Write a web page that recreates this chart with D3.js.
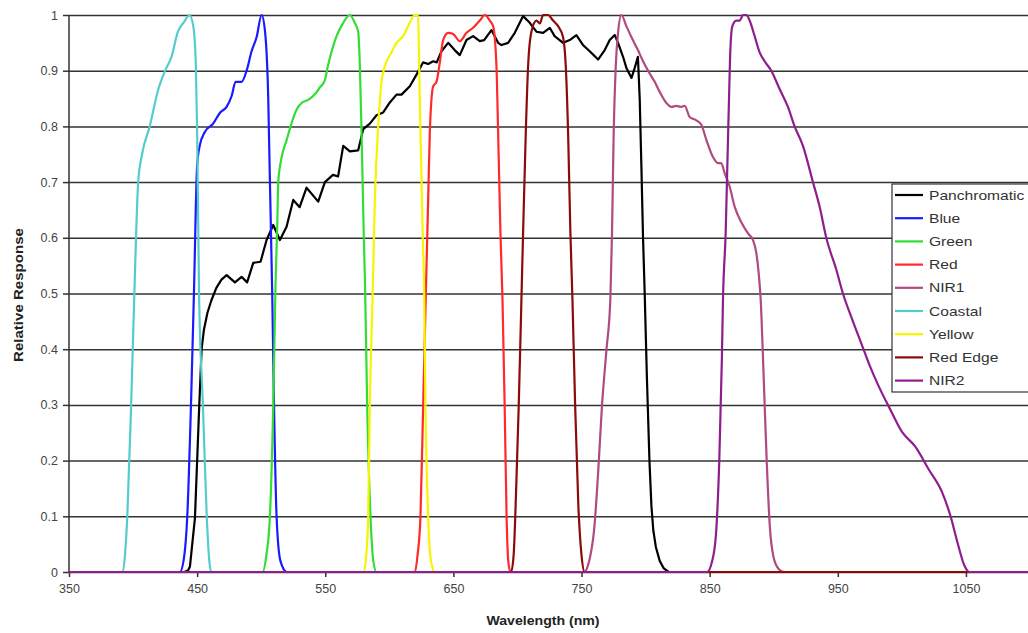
<!DOCTYPE html>
<html>
<head>
<meta charset="utf-8">
<script src="https://cdn.jsdelivr.net/npm/d3@7"></script>
<style>
  body { margin: 0; background: #fff; }
  svg { display: block; font-family: "Liberation Sans", Arial, sans-serif; }
  .grid line { stroke: #333; stroke-width: 1.5; }
  .grid path { display: none; }
  .axis path, .axis line { stroke: #333; stroke-width: 1.5; }
  .axis text { fill: #444; font-size: 12.5px; }
  .band { fill: none; stroke-width: 2.2; stroke-linejoin: round; }
</style>
</head>
<body>
<svg id="chart" width="1028" height="633"></svg>
<script>

/////// Data: [wavelength nm, relative response] ///////

var panchromatic = [[350,0],[440,0],[443,0.003],[444.4,0.01],[448.3,0.097],[451.6,0.296],[453.5,0.4],[455.3,0.435],[458,0.465],[461,0.487],[465,0.51],[469,0.525],[473,0.533],[479.5,0.52],[484.7,0.53],[489,0.52],[493.8,0.555],[499.5,0.557],[504.2,0.596],[509.4,0.623],[514.6,0.596],[519.8,0.62],[525,0.668],[530,0.655],[535.4,0.69],[544.5,0.665],[549.7,0.7],[556,0.713],[560,0.71],[564,0.765],[569.2,0.755],[575.7,0.757],[579.6,0.795],[584.8,0.805],[590,0.82],[595.2,0.825],[600.4,0.843],[605.6,0.857],[609.5,0.857],[616,0.872],[621.2,0.893],[626.4,0.915],[630.3,0.912],[634.2,0.917],[637,0.915],[640.7,0.935],[645.9,0.95],[651,0.937],[655,0.928],[660.2,0.955],[665.4,0.962],[670.6,0.953],[674,0.955],[679.7,0.973],[684.9,0.95],[687.5,0.946],[692.7,0.95],[697.9,0.968],[704.4,0.998],[709.6,0.986],[714.8,0.97],[720,0.968],[725.2,0.977],[729,0.962],[735.6,0.95],[740.8,0.955],[746,0.964],[751.2,0.946],[756.4,0.935],[762.9,0.92],[768.1,0.937],[772,0.955],[775.9,0.964],[778.5,0.95],[782.4,0.925],[785,0.905],[789,0.887],[791.5,0.905],[794,0.925],[795.4,0.85],[796.7,0.73],[798,0.6],[799.3,0.5],[801,0.35],[803,0.2],[804.5,0.12],[806,0.075],[808,0.045],[811,0.02],[814,0.007],[818,0],[1100,0]];

var blue = [[350,0],[436.5,0],[440,0.03],[442.3,0.1],[445.2,0.3],[447.5,0.5],[450,0.73],[452,0.765],[456,0.79],[462.5,0.805],[468,0.825],[473,0.835],[477,0.855],[480,0.88],[484.7,0.88],[488.6,0.9],[492.5,0.935],[496.4,0.96],[500.3,1],[503,0.97],[505.5,0.85],[506.8,0.7],[508.6,0.5],[510,0.3],[512,0.1],[515,0.02],[520,0],[1100,0]];

var green = [[350,0],[501,0],[504,0.03],[506.8,0.1],[509.4,0.3],[511.2,0.52],[512.5,0.62],[513.3,0.7],[516,0.745],[519.8,0.775],[523.7,0.806],[527.6,0.83],[531.5,0.842],[537,0.848],[542,0.858],[545.8,0.87],[549.7,0.883],[552,0.908],[555,0.935],[558.8,0.962],[564,0.986],[569.2,1],[573,0.986],[575.7,0.97],[577,0.908],[578.3,0.79],[580,0.61],[581,0.52],[582.7,0.3],[585.3,0.1],[587.5,0.02],[590,0],[1100,0]];

var red = [[350,0],[620,0],[622,0.03],[624.3,0.1],[626.4,0.3],[628.5,0.5],[630.3,0.668],[631.6,0.79],[634.2,0.872],[636.8,0.88],[639.4,0.915],[642,0.955],[645.9,0.968],[649.8,0.966],[655,0.953],[660.2,0.968],[665.4,0.977],[670.6,0.99],[674.5,1],[678.4,0.99],[681,0.98],[683.6,0.908],[684.9,0.79],[686.7,0.61],[688.3,0.49],[690,0.3],[691.5,0.1],[692.8,0.02],[694.5,0],[1100,0]];

var nir1 = [[350,0],[752,0],[756,0.02],[760,0.08],[763,0.18],[766,0.3],[769.5,0.4],[772.5,0.49],[773.8,0.61],[775.1,0.79],[776.7,0.908],[778.5,0.968],[781.1,1],[785,0.98],[789,0.96],[794,0.937],[798,0.917],[803.2,0.895],[807.1,0.88],[811,0.862],[816.2,0.842],[820.1,0.835],[824,0.837],[827.9,0.835],[830.5,0.837],[834.4,0.817],[839.6,0.811],[843.5,0.803],[847.4,0.776],[852.6,0.745],[856.5,0.734],[859,0.734],[861.7,0.716],[865.6,0.692],[869.5,0.656],[874.7,0.628],[879.9,0.608],[883.8,0.596],[886.4,0.573],[888.5,0.53],[889.8,0.49],[892,0.36],[894.5,0.2],[897,0.08],[900,0.025],[904,0.005],[908,0],[1100,0]];

var coastal = [[350,0],[392,0],[394,0.04],[395.5,0.1],[398.5,0.3],[401,0.5],[404,0.7],[407,0.75],[413,0.8],[419.5,0.865],[425,0.9],[430,0.925],[435,0.97],[440,0.988],[444,1],[447,0.98],[449,0.91],[450,0.79],[451.5,0.5],[454.5,0.3],[457.5,0.1],[459.5,0.02],[461,0],[1100,0]];

var yellow = [[350,0],[580,0],[582,0.03],[583.5,0.1],[584.8,0.3],[587,0.5],[588.7,0.668],[591.3,0.8],[593.9,0.88],[596.5,0.908],[601.7,0.933],[605.6,0.95],[610.8,0.962],[614.7,0.98],[619.9,1],[622.5,1],[623.3,0.908],[624.3,0.79],[626,0.61],[627.2,0.5],[628.2,0.3],[630.3,0.1],[632.5,0.02],[635.5,0],[1100,0]];

var redEdge = [[350,0],[695,0],[697,0.03],[699,0.15],[701,0.3],[703.1,0.49],[704.4,0.61],[706.5,0.79],[708.3,0.908],[710.9,0.97],[714.8,0.99],[717.5,0.985],[720,1],[723.9,1],[727.8,0.99],[731.7,0.98],[735.6,0.96],[737.7,0.908],[739.5,0.79],[741.3,0.61],[742.9,0.49],[745,0.3],[747.5,0.12],[750,0.03],[752.5,0],[1100,0]];

var nir2 = [[350,0],[848,0],[852,0.02],[855,0.07],[857.5,0.2],[859.5,0.38],[860.4,0.49],[862.5,0.61],[863.8,0.73],[865.1,0.85],[866.2,0.94],[867.7,0.98],[870.8,0.99],[873.4,0.99],[876,1],[878.6,1],[881.2,0.99],[885.1,0.962],[889,0.933],[892.9,0.917],[898.1,0.9],[904.6,0.867],[911.1,0.835],[916.3,0.8],[922.8,0.765],[930.6,0.7],[935.8,0.656],[941,0.6],[948.8,0.543],[954,0.5],[961,0.455],[968.4,0.41],[975,0.37],[981.6,0.335],[992,0.287],[1000,0.252],[1010.5,0.225],[1021,0.184],[1031.6,0.142],[1038,0.1],[1043.4,0.053],[1048.7,0.012],[1052.6,0],[1100,0]];

var seriesNames = ["Panchromatic","Blue","Green","Red","NIR1","Coastal","Yellow","Red Edge","NIR2"];
var seriesData = [panchromatic, blue, green, red, nir1, coastal, yellow, redEdge, nir2];
var seriesColors = ["#000000","#1a1aff","#33dd33","#ff2a2a","#b04a80","#55cccc","#f5f500","#8b0a0a","#8e1e8e"];

var xTicks = [350,450,550,650,750,850,950,1050];
var yTicks = [0,0.1,0.2,0.3,0.4,0.5,0.6,0.7,0.8,0.9,1];
var yTickLabels = ["0","0.1","0.2","0.3","0.4","0.5","0.6","0.7","0.8","0.9","1"];


/////// Scales ///////

var svg = d3.select("#chart");

var x = d3.scaleLinear().domain([350, 1100]).range([69, 1030]),
    y = d3.scaleLinear().domain([0, 1]).range([572, 15]);

// horizontal grid lines
svg.append("g")
    .attr("class", "grid")
    .attr("transform", "translate(" + x.range()[0] + ",0)")
    .call(d3.axisLeft(y).tickValues(yTicks).tickSize(-(x.range()[1] - x.range()[0])).tickFormat(""));

// y axis
svg.append("g")
    .attr("class", "axis")
    .attr("transform", "translate(" + x.range()[0] + ",0)")
    .call(d3.axisLeft(y).tickValues(yTicks).tickSize(6).tickPadding(5)
        .tickFormat(function(d, i) { return yTickLabels[i]; }))
    .call(function(g) { g.select(".domain").attr("d", "M0," + y(0) + "V" + y(1)); });

// x axis
svg.append("g")
    .attr("class", "axis")
    .attr("transform", "translate(0," + y(0) + ")")
    .call(d3.axisBottom(x).tickValues(xTicks).tickSize(5).tickPadding(7).tickFormat(d3.format("d")))
    .call(function(g) { g.select(".domain").remove(); });


/////// Curves ///////

// the panchromatic trace is jagged, the band filters are smooth
var line = d3.line()
    .x(function(d) { return x(d[0]); })
    .y(function(d) { return y(d[1]); });

svg.append("g").selectAll("path")
    .data(seriesData)
    .enter().append("path")
    .attr("class", "band")
    .attr("stroke", function(d, i) { return seriesColors[i]; })
    .attr("d", function(d, i) {
        return line.curve(i === 0 ? d3.curveLinear : d3.curveMonotoneX)(d);
    });


/////// Axis titles ///////

svg.append("text")
    .attr("x", 543)
    .attr("y", 625)
    .attr("text-anchor", "middle")
    .attr("font-size", "12px")
    .attr("font-weight", "bold")
    .attr("fill", "#222")
    .attr("textLength", 113)
    .attr("lengthAdjust", "spacingAndGlyphs")
    .text("Wavelength (nm)");

svg.append("text")
    .attr("transform", "translate(23,295) rotate(-90)")
    .attr("text-anchor", "middle")
    .attr("font-size", "12px")
    .attr("font-weight", "bold")
    .attr("fill", "#222")
    .attr("textLength", 134)
    .attr("lengthAdjust", "spacingAndGlyphs")
    .text("Relative Response");


/////// Legend ///////

var legend = svg.append("g").attr("transform", "translate(892,184)");

legend.append("rect")
    .attr("width", 150)
    .attr("height", 208)
    .attr("fill", "#fff")
    .attr("stroke", "#333")
    .attr("stroke-width", 1.2);

var item = legend.selectAll(".item")
    .data(seriesNames)
    .enter().append("g")
    .attr("class", "item")
    .attr("transform", function(d, i) { return "translate(0," + (11 + i * 23.2) + ")"; });

item.append("line")
    .attr("x1", 3).attr("x2", 31)
    .attr("stroke-width", 2.2)
    .attr("stroke", function(d, i) { return seriesColors[i]; });

item.append("text")
    .attr("transform", "translate(37,0) scale(1.2,1)")
    .attr("dy", "0.35em")
    .attr("font-size", "13px")
    .attr("fill", "#333")
    .text(function(d) { return d; });

</script>
</body>
</html>
